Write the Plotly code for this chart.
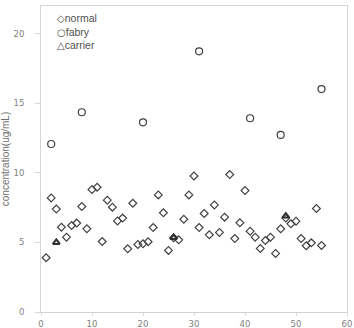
import plotly.graph_objects as go

normal_x = list(range(1, 56))
normal_y = [3.9, 8.2, 7.4, 6.1, 5.38, 6.22, 6.39, 7.58, 5.98, 8.8,
            8.97, 5.07, 8.04, 7.54, 6.55, 6.75, 4.54, 7.82, 4.86, 4.9,
            5.05, 6.07, 8.42, 7.13, 4.43, 5.33, 5.19, 6.67, 8.42, 9.78,
            6.07, 7.08, 5.55, 7.7, 5.72, 6.82, 9.88, 5.28, 6.41, 8.73,
            5.81, 5.38, 4.57, 5.14, 5.38, 4.21, 5.98, 6.75, 6.34, 6.53,
            5.28, 4.76, 4.97, 7.44, 4.78]

fabry_x = [2, 8, 20, 31, 41, 47, 55]
fabry_y = [12.08, 14.36, 13.64, 18.74, 13.93, 12.73, 16.03]

carrier_x = [3, 26, 48]
carrier_y = [5.0, 5.35, 6.9]

legend_symbols = ["◇", "○", "△"]
legend_names = ["normal", "fabry", "carrier"]

fig = go.Figure()
fig.add_trace(go.Scatter(x=normal_x, y=normal_y, mode="markers", name="normal",
                         marker=dict(symbol="diamond-open", size=6, color="#404040",
                                     line=dict(width=1.2, color="#404040"))))
fig.add_trace(go.Scatter(x=fabry_x, y=fabry_y, mode="markers", name="fabry",
                         marker=dict(symbol="circle-open", size=7, color="#404040",
                                     line=dict(width=1.2, color="#404040"))))
fig.add_trace(go.Scatter(x=carrier_x, y=carrier_y, mode="markers", name="carrier",
                         marker=dict(symbol="triangle-up-open", size=6, color="#303030",
                                     line=dict(width=2, color="#303030"))))

axis_common = dict(showgrid=False, zeroline=False, showline=True, linecolor="#d4d4d4",
                   linewidth=1, mirror=True, ticks="outside", tickcolor="#d8d8d8",
                   automargin=False,
                   tickfont=dict(family="DejaVu Sans", size=8.5, color="#808080"))

legend_text = "<br>".join(
    f"<span style='font-family:DejaVu Sans;font-size:10px'>{s}</span>{n}"
    for s, n in zip(legend_symbols, legend_names))
fig.add_annotation(text=legend_text, xref="paper", yref="paper", x=0.045, y=0.918,
                   xanchor="left", yanchor="middle", align="left", showarrow=False,
                   font=dict(family="Liberation Sans, Arial", size=10.5, color="#505050"))

fig.update_layout(
    width=354, height=328,
    margin=dict(l=41, r=7, t=6, b=16),
    paper_bgcolor="white", plot_bgcolor="white",
    showlegend=False,
    xaxis=dict(range=[0, 60], tickvals=[0, 10, 20, 30, 40, 50, 60], ticklen=3,
               ticklabelstandoff=1, **axis_common),
    yaxis=dict(range=[0, 22], tickvals=[0, 5, 10, 15, 20], ticklen=5,
               ticklabelstandoff=9,
               title=dict(text="concentration(ug/mL)", standoff=2,
                          font=dict(family="Liberation Sans, Arial", size=10, color="#707070")),
               **axis_common),
)
fig.write_html("out.html")
